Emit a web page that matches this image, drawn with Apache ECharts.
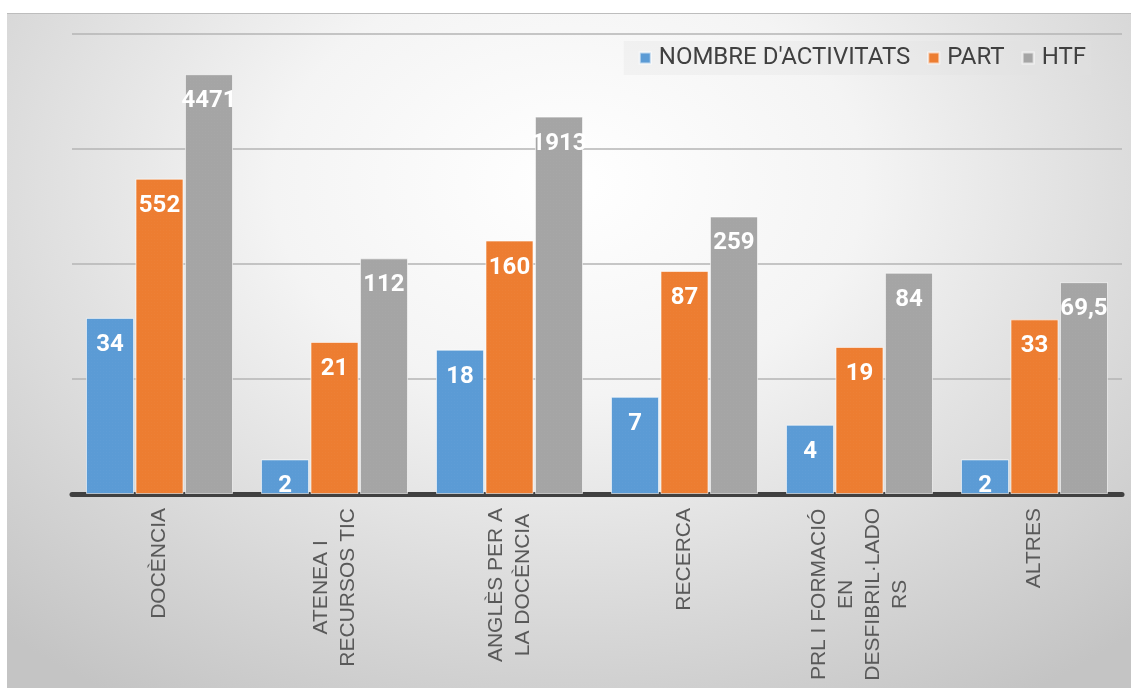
<!DOCTYPE html>
<html>
<head>
<meta charset="utf-8">
<script src="https://cdn.jsdelivr.net/npm/echarts@6/dist/echarts.min.js"></script>
<style>
  html, body { margin: 0; padding: 0; background: #ffffff; }
  #frame {
    position: absolute; left: 7px; top: 13px; width: 1124px; height: 675px;
    border-top: 1px solid #bdbdbd;
    background: radial-gradient(ellipse 75% 90% at 50% 25%, #ffffff 0%, #f4f4f4 35%, #d6d6d6 75%, #c4c4c4 100%);
  }
  #chart { width: 1124px; height: 675px; }
</style>
</head>
<body>
<div id="frame"><div id="chart"></div></div>
<script>
const categories = [
  'DOCÈNCIA',
  'ATENEA I\nRECURSOS TIC',
  'ANGLÈS PER A\nLA DOCÈNCIA',
  'RECERCA',
  'PRL I FORMACIÓ\nEN\nDESFIBRIL·LADO\nRS',
  'ALTRES'
]
const seriesNames = ['NOMBRE D\'ACTIVITATS', 'PART', 'HTF']
const activitats = [34, 2, 18, 7, 4, 2]
const part = [552, 21, 160, 87, 19, 33]
const htf = [4471, 112, 1913, 259, 84, 69.5]
const colors = ['#5B9BD5', '#ED7D31', '#A5A5A5']

const chart = echarts.init(document.getElementById('chart'))

const makeSeries = (name, data, color) => ({
  name,
  type: 'bar',
  data,
  barGap: '3%',
  barCategoryGap: '16%',
  itemStyle: {
    color,
    borderColor: 'rgba(255,255,255,0.35)',
    borderWidth: 1,
    decal: {
      symbol: 'rect',
      symbolSize: 0.5,
      color: 'rgba(255,255,255,0.12)',
      dashArrayX: [1, 2],
      dashArrayY: [1, 2]
    }
  },
  label: {
    show: true,
    position: 'insideTop',
    distance: 15,
    color: '#ffffff',
    fontFamily: 'Roboto',
    fontWeight: 'bold',
    fontSize: 24,
    formatter: p => String(p.value).replace('.', ',')
  }
})

const option = {
  backgroundColor: 'transparent',
  animation: false,
  color: colors,
  grid: {
    left: 65,
    right: 9,
    top: 20,
    bottom: 195
  },
  legend: {
    data: seriesNames,
    right: 40,
    top: 27,
    itemWidth: 11,
    itemHeight: 11,
    itemGap: 17,
    padding: [5, 5, 5, 15],
    backgroundColor: 'rgba(225,225,225,0.3)',
    icon: 'rect',
    textStyle: {
      color: '#404040',
      fontFamily: 'Roboto',
      fontSize: 24,
      padding: [0, 0, 0, 3]
    }
  },
  xAxis: {
    type: 'category',
    data: categories,
    axisLine: {
      lineStyle: { color: '#404040', width: 5 }
    },
    axisTick: { show: false },
    axisLabel: {
      rotate: 90,
      margin: 14,
      interval: 0,
      color: '#595959',
      fontFamily: 'Liberation Sans',
      fontSize: 21,
      lineHeight: 27,
      formatter: v => v.split('\n').map(s => '{c|' + s + '}').join('\n'),
      rich: {
        c: {
          align: 'center',
          color: '#595959',
          fontFamily: 'Liberation Sans',
          fontSize: 21,
          lineHeight: 27
        }
      }
    }
  },
  yAxis: {
    type: 'log',
    logBase: 10,
    min: 1,
    max: 10000,
    axisLine: { show: false },
    axisTick: { show: false },
    axisLabel: { show: false },
    splitLine: {
      lineStyle: { color: '#b4b4b4', width: 1.5 }
    }
  },
  series: [
    makeSeries(seriesNames[0], activitats, colors[0]),
    makeSeries(seriesNames[1], part, colors[1]),
    makeSeries(seriesNames[2], htf, colors[2])
  ]
}

chart.setOption(option)
</script>
</body>
</html>
